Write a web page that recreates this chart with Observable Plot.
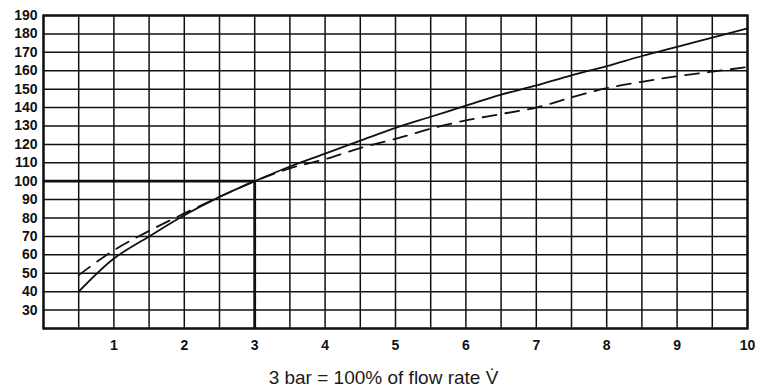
<!DOCTYPE html>
<html>
<head>
<meta charset="utf-8">
<script src="https://cdn.jsdelivr.net/npm/d3@7"></script>
<script src="https://cdn.jsdelivr.net/npm/@observablehq/plot@0.6"></script>
<style>
  html, body { margin: 0; padding: 0; background: #fff; }
  #chart svg { display: block; }
  #caption {
    width: 767px; text-align: center;
    font-family: "Liberation Sans", Arial, sans-serif;
    font-size: 19px; line-height: 24px; color: #1a1a1a;
    margin-top: 6px;
  }
</style>
</head>
<body>
<div id="chart"></div>
<div id="caption">3 bar = 100% of flow rate V&#x307;</div>
<script>
// Pressure (bar)
const pressure = [0.5, 1, 1.5, 2, 2.5, 3, 3.5, 4, 4.5, 5, 5.5, 6, 6.5, 7, 7.5, 8, 8.5, 9, 9.5, 10];
// Solid curve (% flow rate)
const solidSeries = [40, 58, 70, 81.5, 91.5, 100, 108, 115, 122, 129, 135, 141, 147, 152, 157.5, 162.5, 168, 173, 178, 183];
// Dashed curve (% flow rate)
const dashedSeries = [49, 62.5, 73, 82.5, 91.5, 100, 107, 112, 118, 123, 128.5, 133, 136.5, 140, 145.5, 150.5, 154, 157, 159.5, 162];

// Tick labels and grid values
const xTicks = [1, 2, 3, 4, 5, 6, 7, 8, 9, 10];
const xGrid = [0, 0.5, 1, 1.5, 2, 2.5, 3, 3.5, 4, 4.5, 5, 5.5, 6, 6.5, 7, 7.5, 8, 8.5, 9, 9.5, 10];
const yTicks = [30, 40, 50, 60, 70, 80, 90, 100, 110, 120, 130, 140, 150, 160, 170, 180, 190];
const yGrid = [20, 30, 40, 50, 60, 70, 80, 90, 100, 110, 120, 130, 140, 150, 160, 170, 180, 190];

// Reference: 3 bar = 100 %
const refPressure = 3;
const refPercent = 100;

const xDomain = [0, 10];
const yDomain = [20, 190];

const solid = pressure.map((p, i) => ({p, v: solidSeries[i]}));
const dashed = pressure.map((p, i) => ({p, v: dashedSeries[i]}));

const ink = "#111";

const chart = Plot.plot({
  width: 767,
  height: 360,
  marginLeft: 43,
  marginRight: 20,
  marginTop: 15,
  marginBottom: 32,
  x: {domain: xDomain, label: null},
  y: {domain: yDomain, label: null},
  style: {
    fontFamily: "'Liberation Sans', Arial, sans-serif",
    fontSize: "14px",
    fontWeight: "bold",
    color: ink,
    background: "#fff"
  },
  marks: [
    Plot.ruleX(xGrid, {stroke: ink, strokeWidth: 1.5}),
    Plot.ruleY(yGrid, {stroke: ink, strokeWidth: 1.5}),
    Plot.ruleY([refPercent], {x1: xDomain[0], x2: refPressure, stroke: ink, strokeWidth: 2.8}),
    Plot.ruleX([refPressure], {y1: yDomain[0], y2: refPercent, stroke: ink, strokeWidth: 2.8}),
    Plot.line(solid, {x: "p", y: "v", stroke: ink, strokeWidth: 1.8, curve: "catmull-rom"}),
    Plot.line(dashed, {x: "p", y: "v", stroke: ink, strokeWidth: 1.8, strokeDasharray: "14,9", curve: "catmull-rom"}),
    Plot.frame({stroke: ink, strokeWidth: 2.4}),
    Plot.axisY(yTicks, {tickSize: 0, tickPadding: 6, fill: ink, label: null}),
    Plot.axisX(xTicks, {tickSize: 0, tickPadding: 12, fill: ink, label: null})
  ]
});

document.getElementById("chart").appendChild(chart);
</script>
</body>
</html>
